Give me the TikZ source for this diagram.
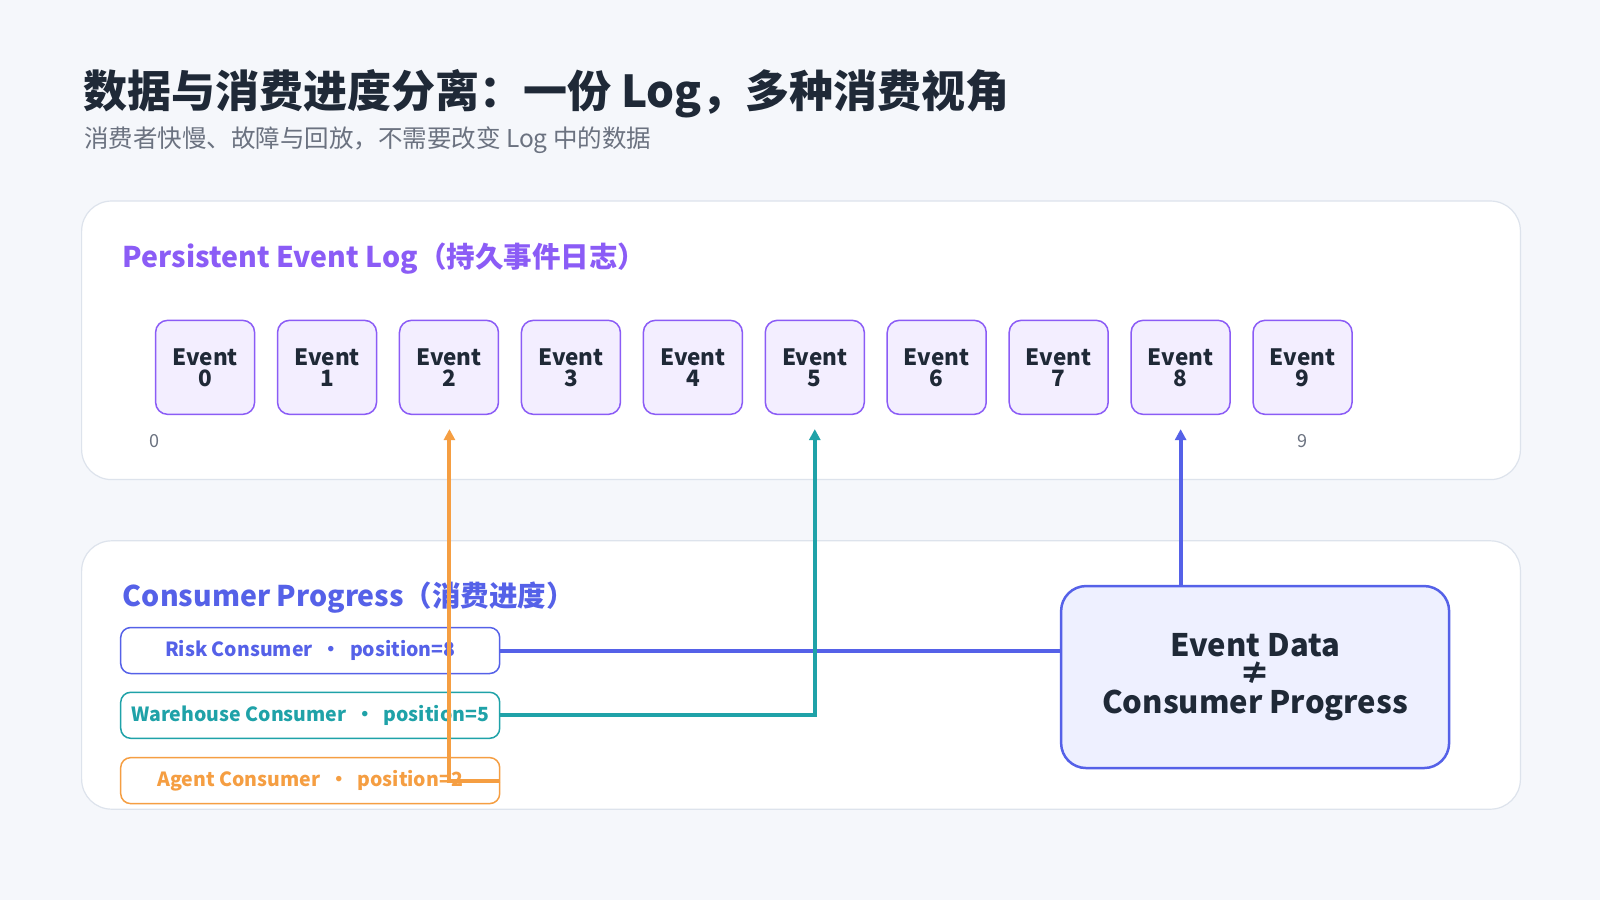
\documentclass[tikz,border=0pt]{standalone}
\usepackage{fontspec}
\setmainfont{Noto Sans CJK SC}
\usetikzlibrary{positioning,arrows.meta}
\definecolor{bgc}{HTML}{F5F7FB}
\definecolor{inkc}{HTML}{1F2937}
\definecolor{grayc}{HTML}{6B7280}
\definecolor{linec}{HTML}{DDE3EC}
\definecolor{purpc}{HTML}{8B5CF6}
\definecolor{evfill}{HTML}{F3EEFF}
\definecolor{indc}{HTML}{5561E8}
\definecolor{tealc}{HTML}{1FA2A8}
\definecolor{orgc}{HTML}{F59E42}
\definecolor{boxfill}{HTML}{EEF0FF}
\begin{document}
\begin{tikzpicture}[x=1.0204pt,y=-1.0204pt,
    panel/.style={draw=linec,line width=1.2pt,fill=white,rounded corners=30pt},
    event/.style={draw=purpc,line width=1.5pt,fill=evfill,rounded corners=12pt,
      minimum width=99pt,minimum height=94pt,align=center,inner sep=0pt,
      font=\fontsize{22.5}{21}\selectfont\bfseries,text=inkc},
    consumer/.style={draw=#1,line width=1.5pt,fill=white,rounded corners=10pt,
      minimum width=379pt,minimum height=46pt,inner sep=0pt,
      font=\fontsize{19.5}{22}\selectfont\bfseries,text=#1},
    link/.style={draw=#1,line width=4pt,-{Triangle[length=11pt,width=11pt]}}
    ]
    \fill[bgc] (0,0) rectangle (1568,882);
    \useasboundingbox (0,0) rectangle (1568,882);
    % title
    \node[anchor=west,text=inkc,font=\fontsize{44}{48}\selectfont\bfseries] (title) at (78,92)
      {数据与消费进度分离：一份 Log，多种消费视角};
    \node[anchor=west,text=grayc,font=\fontsize{24.5}{28}\selectfont] (subtitle) at (79,137)
      {消费者快慢、故障与回放，不需要改变 Log 中的数据};
    % panels
    \path[panel] (80,197) rectangle (1490,470);
    \path[panel] (80,530) rectangle (1490,793);
    \node[anchor=west,text=purpc,font=\fontsize{28.5}{32}\selectfont\bfseries] (logtitle) at (117,253)
      {Persistent Event Log（持久事件日志）};
    \node[anchor=west,text=indc,font=\fontsize{28.5}{32}\selectfont\bfseries] (progtitle) at (117,586)
      {Consumer Progress（消费进度）};
    % events
    \foreach \i in {0,...,9}
      \node[event] (E\i) at (201+119.5*\i,360) {Event\\\i};
    \node[text=grayc,font=\fontsize{18}{20}\selectfont] (off0) at (151,432) {0};
    \node[text=grayc,font=\fontsize{18}{20}\selectfont] (off9) at (1276,432) {9};
    % consumers
    \node[consumer=indc] (risk) at (304,637.5) {Risk Consumer \ · \ position=8};
    \node[consumer=tealc] (wh) at (304,701) {Warehouse Consumer \ · \ position=5};
    \node[consumer=orgc] (agent) at (304,765) {Agent Consumer \ · \ position=2};
    % links
    \draw[link=indc,shorten >=14pt] (risk.east) -| (E8.south);
    \draw[link=tealc,shorten >=14pt] (wh.east) -| (E5.south);
    \draw[link=orgc,shorten >=14pt] (agent.east) -- ++(-50,0) coordinate (turn) -- (turn |- E2.south);
    % summary
    \node[draw=indc,line width=2.5pt,fill=boxfill,rounded corners=25pt,
      minimum width=388pt,minimum height=182pt,align=center,text=inkc,
      font=\fontsize{31}{28.5}\selectfont\bfseries] (summary) at (1230,663.5)
      {Event Data\\≠\\Consumer Progress};
\end{tikzpicture}
\end{document}
